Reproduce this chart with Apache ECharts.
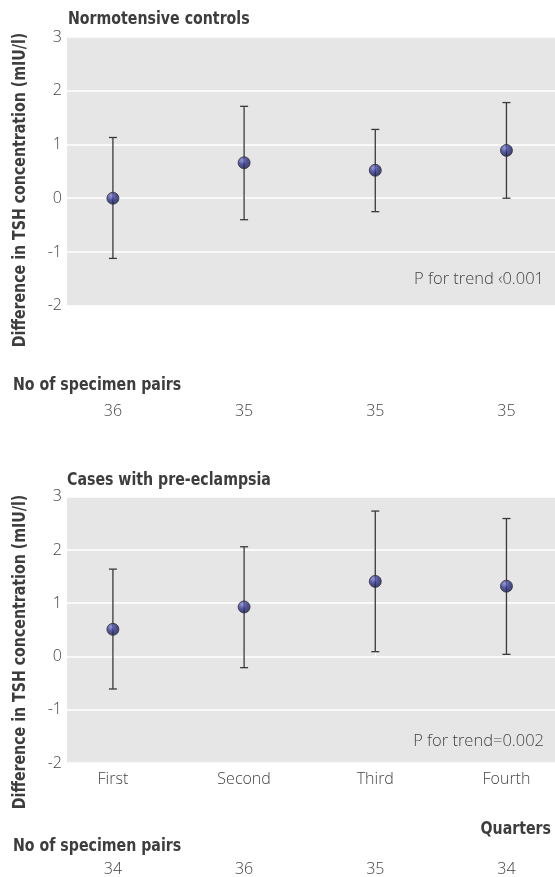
<!DOCTYPE html>
<html>
<head>
<meta charset="utf-8">
<script src="https://cdn.jsdelivr.net/npm/echarts@6/dist/echarts.min.js"></script>
<style>html,body{margin:0;padding:0;background:#fff;}#c{width:555px;height:877px;}</style>
</head>
<body>
<div id="c"></div>
<script>
// ---- data ----
const categories = ['First', 'Second', 'Third', 'Fourth'];
const quarterPos = [1, 2, 3, 4];
const yTicks = [-2, -1, 0, 1, 2, 3];

const controlsMean  = [0.00, 0.66, 0.52, 0.89];
const controlsLower = [-1.12, -0.40, -0.25, 0.00];
const controlsUpper = [1.13, 1.71, 1.28, 1.78];
const controlsPairs = [36, 35, 35, 35];

const casesMean  = [0.51, 0.93, 1.41, 1.32];
const casesLower = [-0.61, -0.21, 0.09, 0.04];
const casesUpper = [1.64, 2.06, 2.73, 2.59];
const casesPairs = [34, 36, 35, 34];

const controlsTitle = 'Normotensive controls';
const casesTitle = 'Cases with pre-eclampsia';
const yTitle = 'Difference in TSH concentration (mIU/l)';
const pairsTitle = 'No of specimen pairs';
const xTitle = 'Quarters';
const controlsTrend = 'P for trend \u20390.001';
const casesTrend = 'P for trend=0.002';

// ---- style ----
const lightFont = "'Open Sans', 'DejaVu Sans', sans-serif";
const boldFont = "'DejaVu Sans Condensed', 'Liberation Sans Narrow', sans-serif";
const textColor = '#444';
const boldColor = '#3d3d3d';
const barColor = '#3a3a3a';

const chart = echarts.init(document.getElementById('c'), null, {renderer: 'canvas'});

const markerColor = new echarts.graphic.RadialGradient(0.35, 0.3, 0.75, [
  {offset: 0, color: '#8387d6'},
  {offset: 0.45, color: '#2f3389'},
  {offset: 1, color: '#141646'}
]);

function errorBars(gridIdx, lower, upper) {
  return {
    type: 'custom',
    xAxisIndex: gridIdx * 2,
    yAxisIndex: gridIdx,
    data: quarterPos.map((p, i) => [p, lower[i], upper[i]]),
    renderItem: function (params, api) {
      const x = api.value(0);
      const lo = api.coord([x, api.value(1)]);
      const hi = api.coord([x, api.value(2)]);
      const hw = 4;
      const st = {stroke: barColor, lineWidth: 1.3};
      return {
        type: 'group',
        children: [
          {type: 'line', shape: {x1: lo[0], y1: hi[1], x2: lo[0], y2: lo[1]}, style: st},
          {type: 'line', shape: {x1: lo[0] - hw, y1: hi[1], x2: lo[0] + hw, y2: hi[1]}, style: st},
          {type: 'line', shape: {x1: lo[0] - hw, y1: lo[1], x2: lo[0] + hw, y2: lo[1]}, style: st}
        ]
      };
    },
    z: 2
  };
}

function points(gridIdx, mean) {
  return {
    type: 'scatter',
    xAxisIndex: gridIdx * 2,
    yAxisIndex: gridIdx,
    data: quarterPos.map((p, i) => [p, mean[i]]),
    symbol: 'circle',
    symbolSize: 12,
    itemStyle: {color: markerColor, borderColor: '#333', borderWidth: 1},
    z: 3
  };
}

const xMin = 0.65, xMax = 4.37;

function mainX(gridIdx, showLabels) {
  return {
    type: 'value', gridIndex: gridIdx, min: xMin, max: xMax,
    axisLine: {show: false},
    axisTick: {show: true, inside: true, length: 4, customValues: quarterPos, lineStyle: {color: '#ffffff', width: 1.2}},
    axisLabel: {show: showLabels, customValues: quarterPos, margin: 8,
      formatter: v => categories[Math.round(v) - 1] || '',
      fontFamily: lightFont, fontWeight: 300, fontSize: 16, color: textColor},
    splitLine: {show: false}
  };
}

function pairsX(gridIdx, pairs) {
  return {
    type: 'value', gridIndex: gridIdx, min: xMin, max: xMax, position: 'bottom', offset: 90,
    axisLine: {show: false},
    axisTick: {show: false, customValues: quarterPos},
    axisLabel: {show: true, customValues: quarterPos, margin: 8,
      formatter: v => String(pairs[Math.round(v) - 1] ?? ''),
      fontFamily: lightFont, fontWeight: 300, fontSize: 16, color: textColor},
    splitLine: {show: false}
  };
}

function mainY(gridIdx) {
  return {
    type: 'value', gridIndex: gridIdx, min: yTicks[0], max: yTicks[yTicks.length - 1], interval: 1,
    axisLine: {show: false}, axisTick: {show: false},
    axisLabel: {margin: 5, fontFamily: lightFont, fontWeight: 300, fontSize: 16, color: textColor},
    splitLine: {show: true, lineStyle: {color: '#ffffff', width: 1.6}}
  };
}

function txt(text, x, y, opts) {
  return Object.assign({
    type: 'text', x: x, y: y, silent: true, scaleX: 0.9,
    style: Object.assign({text: text, fontFamily: boldFont, fontWeight: 'bold', fontSize: 17.5, fill: boldColor,
      align: 'left', verticalAlign: 'middle'}, opts && opts.style)
  }, opts && opts.el);
}

const option = {
  backgroundColor: '#ffffff',
  animation: false,
  grid: [
    {left: 67, right: 0, top: 37, bottom: 571.3, show: true, backgroundColor: '#e6e6e6', borderWidth: 0},
    {left: 67, right: 0, top: 496.7, bottom: 111, show: true, backgroundColor: '#e6e6e6', borderWidth: 0}
  ],
  xAxis: [mainX(0, false), pairsX(0, controlsPairs), mainX(1, true), pairsX(1, casesPairs)],
  yAxis: [mainY(0), mainY(1)],
  series: [
    errorBars(0, controlsLower, controlsUpper),
    points(0, controlsMean),
    errorBars(1, casesLower, casesUpper),
    points(1, casesMean)
  ],
  graphic: [
    txt(controlsTitle, 68, 19),
    txt(casesTitle, 67, 480),
    txt(yTitle, 20, 190, {el: {rotation: Math.PI / 2}, style: {align: 'center'}}),
    txt(yTitle, 20, 652, {el: {rotation: Math.PI / 2}, style: {align: 'center'}}),
    txt(pairsTitle, 13, 385),
    txt(pairsTitle, 13, 846),
    txt(xTitle, 551, 829, {style: {align: 'right'}}),
    txt(controlsTrend, 544, 279, {el: {scaleX: 1}, style: {align: 'right', fontFamily: lightFont, fontWeight: 300, fontSize: 16.5, fill: textColor}}),
    txt(casesTrend, 544, 741, {el: {scaleX: 1}, style: {align: 'right', fontFamily: lightFont, fontWeight: 300, fontSize: 16.5, fill: textColor}})
  ]
};

chart.setOption(option);
</script>
</body>
</html>
